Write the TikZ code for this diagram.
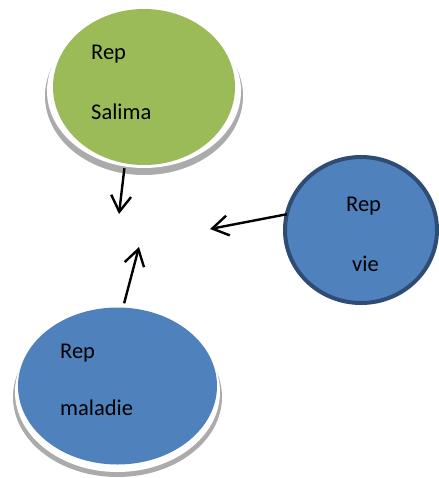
\documentclass[tikz,border=0pt]{standalone}
\usepackage{fontspec}
\setmainfont{Carlito}
\usetikzlibrary{shapes.geometric,arrows.meta}

\definecolor{leafgreen}{HTML}{9BBB59}
\definecolor{officeblue}{HTML}{4F81BD}
\definecolor{navyrim}{HTML}{2E4C74}
\definecolor{shadowgrey}{HTML}{ABABAB}

\tikzset{
  blob/.style={ellipse, inner sep=0pt, outer sep=0pt,
    minimum width=#1},
  shadowrim/.style={ellipse, fill=shadowgrey, inner sep=0pt, outer sep=0pt},
  shadowgap/.style={ellipse, fill=white, inner sep=0pt, outer sep=0pt},
  caption/.style={anchor=base west, inner sep=0pt,
    font=\fontsize{22.5}{27}\selectfont, text=black},
  link/.style={line width=2.4pt, draw=black,
    -{Straight Barb[length=16pt, width=20pt, line width=2.4pt]}},
}

\begin{document}
\begin{tikzpicture}[x=1pt, y=-1pt]
  \useasboundingbox (0,0) rectangle (438,478);

  % soft rims under the two flat ellipses
  \node[shadowrim, minimum width=198pt, minimum height=158pt] at (144,96) {};
  \node[shadowgap, minimum width=194pt, minimum height=154pt] at (144,91) {};
  \node[shadowrim, minimum width=209pt, minimum height=160pt] at (117.5,397) {};
  \node[shadowgap, minimum width=205pt, minimum height=160pt] at (117.5,392) {};

  % the three ellipses
  \node[blob=182pt, minimum height=156pt, fill=leafgreen] (salima) at (144,87) {};
  \node[blob=199pt, minimum height=157pt, fill=officeblue] (maladie) at (117.5,386) {};
  \node[blob=152pt, minimum height=146pt, fill=officeblue,
        draw=navyrim, line width=4pt] (vie) at (361,230) {};

  % loose ends of the arrows
  \coordinate (tipA) at (119,214);
  \coordinate (tipB) at (139,247);
  \coordinate (tipC) at (210,229);

  \draw[link, shorten <=5pt] (salima.256.3) -- (tipA);
  \draw[link, shorten <=4.5pt] (maladie.86.2) -- (tipB);
  \draw[link] (vie.168.5) -- (tipC);

  % labels
  \node[caption] (salimaA) at (91,60) {Rep};
  \node[caption] (salimaB) at (91,120) {Salima};
  \node[caption] (vieA) at (346,211) {Rep};
  \node[caption] (vieB) at (352,271) {vie};
  \node[caption] (maladieA) at (60,358) {Rep};
  \node[caption] (maladieB) at (60,415) {maladie};
\end{tikzpicture}
\end{document}
